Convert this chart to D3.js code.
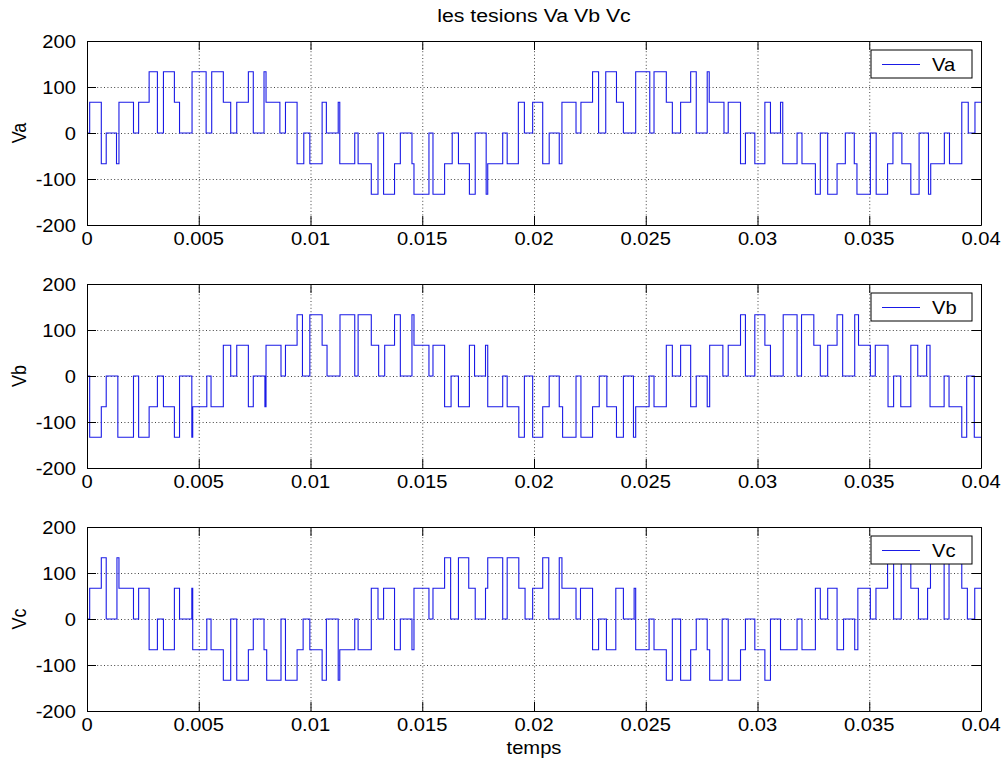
<!DOCTYPE html>
<html>
<head>
<meta charset="utf-8">
<script src="https://cdn.jsdelivr.net/npm/d3@7"></script>
<style>
  body { margin: 0; background: #fff; }
  text { font-family: "Liberation Sans", Arial, sans-serif; fill: #000; }
</style>
</head>
<body>
<svg id="fig" width="1006" height="763"></svg>
<script>
// switching instants (s) and phase voltage levels (V)
const vaT = [0, 0.00012, 0.00064, 0.00086, 0.00132, 0.00143, 0.00208, 0.00231, 0.00278, 0.00315,
  0.00342, 0.00391, 0.00414, 0.00470, 0.00533, 0.00558, 0.00610, 0.00643, 0.00670, 0.00722,
  0.00744, 0.00792, 0.00801, 0.00863, 0.00888, 0.00940, 0.00970, 0.00997, 0.01052, 0.01071,
  0.01124, 0.01131, 0.01198, 0.01213, 0.01272, 0.01302, 0.01327, 0.01376, 0.01402, 0.01454,
  0.01463, 0.01530, 0.01548, 0.01600, 0.01634, 0.01662, 0.01711, 0.01737, 0.01786, 0.01793,
  0.01860, 0.01880, 0.01930, 0.01957, 0.01994, 0.02039, 0.02068, 0.02113, 0.02125, 0.02188,
  0.02210, 0.02262, 0.02289, 0.02321, 0.02369, 0.02400, 0.02455, 0.02518, 0.02537, 0.02592,
  0.02619, 0.02656, 0.02701, 0.02726, 0.02775, 0.02784, 0.02850, 0.02869, 0.02924, 0.02946,
  0.02988, 0.03033, 0.03058, 0.03103, 0.03113, 0.03177, 0.03199, 0.03259, 0.03281, 0.03314,
  0.03356, 0.03393, 0.03433, 0.03445, 0.03505, 0.03531, 0.03582, 0.03606, 0.03646, 0.03686,
  0.03723, 0.03765, 0.03775, 0.03836, 0.03859, 0.03914, 0.03943, 0.03973];
const vaV = [0, 66.7, -66.7, 0, -66.7, 66.7, 0, 66.7, 133.3, 0,
  133.3, 66.7, 0, 133.3, 0, 133.3, 66.7, 0, 66.7, 133.3,
  0, 133.3, 66.7, 0, 66.7, -66.7, 0, -66.7, 66.7, 0,
  66.7, -66.7, 0, -66.7, -133.3, 0, -133.3, -66.7, 0, -66.7,
  -133.3, 0, -133.3, -66.7, 0, -66.7, -133.3, 0, -133.3, -66.7,
  0, -66.7, 66.7, 0, 66.7, -66.7, 0, -66.7, 66.7, 0,
  66.7, 133.3, 0, 133.3, 66.7, 0, 133.3, 0, 133.3, 66.7,
  0, 66.7, 133.3, 0, 133.3, 66.7, 0, 66.7, -66.7, 0,
  -66.7, 66.7, 0, 66.7, -66.7, 0, -66.7, -133.3, 0, -133.3,
  -66.7, 0, -66.7, -133.3, 0, -133.3, -66.7, 0, -66.7, -133.3,
  0, -133.3, -66.7, 0, -66.7, 66.7, 0, 66.7];

const vbT = [0, 0.00012, 0.00064, 0.00086, 0.00138, 0.00208, 0.00231, 0.00278, 0.00315, 0.00342,
  0.00391, 0.00414, 0.00469, 0.00473, 0.00536, 0.00555, 0.00610, 0.00643, 0.00670, 0.00722,
  0.00744, 0.00796, 0.00801, 0.00868, 0.00888, 0.00940, 0.00964, 0.00997, 0.01052, 0.01074,
  0.01132, 0.01198, 0.01213, 0.01272, 0.01305, 0.01332, 0.01376, 0.01402, 0.01454, 0.01463,
  0.01530, 0.01548, 0.01600, 0.01629, 0.01662, 0.01711, 0.01734, 0.01783, 0.01793, 0.01860,
  0.01880, 0.01932, 0.01957, 0.01994, 0.02039, 0.02068, 0.02113, 0.02128, 0.02188, 0.02210,
  0.02262, 0.02292, 0.02326, 0.02369, 0.02400, 0.02445, 0.02455, 0.02515, 0.02537, 0.02592,
  0.02619, 0.02656, 0.02701, 0.02726, 0.02775, 0.02786, 0.02845, 0.02869, 0.02924, 0.02946,
  0.02988, 0.03033, 0.03058, 0.03115, 0.03177, 0.03197, 0.03252, 0.03281, 0.03314, 0.03356,
  0.03381, 0.03435, 0.03452, 0.03505, 0.03527, 0.03584, 0.03609, 0.03641, 0.03686, 0.03717,
  0.03757, 0.03772, 0.03835, 0.03857, 0.03914, 0.03936, 0.03970];
const vbV = [0, -133.3, -66.7, 0, -133.3, 0, -133.3, -66.7, 0, -66.7,
  -133.3, 0, -133.3, -66.7, 0, -66.7, 66.7, 0, 66.7, -66.7,
  0, -66.7, 66.7, 0, 66.7, 133.3, 0, 133.3, 66.7, 0,
  133.3, 0, 133.3, 66.7, 0, 66.7, 133.3, 0, 133.3, 66.7,
  0, 66.7, -66.7, 0, -66.7, 66.7, 0, 66.7, -66.7, 0,
  -66.7, -133.3, 0, -133.3, -66.7, 0, -66.7, -133.3, 0, -133.3,
  -66.7, 0, -66.7, -133.3, 0, -133.3, -66.7, 0, -66.7, 66.7,
  0, 66.7, -66.7, 0, -66.7, 66.7, 0, 66.7, 133.3, 0,
  133.3, 66.7, 0, 133.3, 0, 133.3, 66.7, 0, 66.7, 133.3,
  0, 133.3, 66.7, 0, 66.7, -66.7, 0, -66.7, 66.7, 0,
  66.7, -66.7, 0, -66.7, -133.3, 0, -133.3];

const vcT = [0, 0.00012, 0.00064, 0.00086, 0.00134, 0.00143, 0.00208, 0.00231, 0.00278, 0.00315,
  0.00342, 0.00391, 0.00414, 0.00469, 0.00473, 0.00536, 0.00555, 0.00610, 0.00643, 0.00670,
  0.00722, 0.00744, 0.00792, 0.00804, 0.00868, 0.00888, 0.00940, 0.00967, 0.00997, 0.01052,
  0.01071, 0.01124, 0.01131, 0.01198, 0.01213, 0.01272, 0.01302, 0.01327, 0.01376, 0.01402,
  0.01454, 0.01463, 0.01530, 0.01548, 0.01600, 0.01627, 0.01662, 0.01708, 0.01737, 0.01783,
  0.01793, 0.01860, 0.01880, 0.01932, 0.01960, 0.01994, 0.02039, 0.02066, 0.02113, 0.02125,
  0.02188, 0.02208, 0.02262, 0.02289, 0.02324, 0.02366, 0.02400, 0.02448, 0.02455, 0.02515,
  0.02537, 0.02592, 0.02619, 0.02656, 0.02701, 0.02726, 0.02775, 0.02786, 0.02842, 0.02869,
  0.02924, 0.02946, 0.02988, 0.03033, 0.03058, 0.03103, 0.03177, 0.03199, 0.03259, 0.03281,
  0.03314, 0.03356, 0.03385, 0.03435, 0.03449, 0.03505, 0.03530, 0.03582, 0.03609, 0.03643,
  0.03686, 0.03720, 0.03761, 0.03774, 0.03835, 0.03857, 0.03914, 0.03939, 0.03972];
const vcV = [0, 66.7, 133.3, 0, 133.3, 66.7, 0, 66.7, -66.7, 0,
  -66.7, 66.7, 0, 66.7, -66.7, 0, -66.7, -133.3, 0, -133.3,
  -66.7, 0, -66.7, -133.3, 0, -133.3, -66.7, 0, -66.7, -133.3,
  0, -133.3, -66.7, 0, -66.7, 66.7, 0, 66.7, -66.7, 0,
  -66.7, 66.7, 0, 66.7, 133.3, 0, 133.3, 66.7, 0, 66.7,
  133.3, 0, 133.3, 66.7, 0, 66.7, 133.3, 0, 133.3, 66.7,
  0, 66.7, -66.7, 0, -66.7, 66.7, 0, 66.7, -66.7, 0,
  -66.7, -133.3, 0, -133.3, -66.7, 0, -66.7, -133.3, 0, -133.3,
  -66.7, 0, -66.7, -133.3, 0, -66.7, 0, -66.7, 66.7, 0,
  66.7, -66.7, 0, -66.7, 66.7, 0, 66.7, 133.3, 0, 133.3,
  66.7, 0, 66.7, 133.3, 0, 133.3, 66.7, 0, 66.7];

const xTicks = [0, 0.005, 0.01, 0.015, 0.02, 0.025, 0.03, 0.035, 0.04];
const xTickLabels = ["0", "0.005", "0.01", "0.015", "0.02", "0.025", "0.03", "0.035", "0.04"];
const yTicks = [-200, -100, 0, 100, 200];
const yTickLabels = ["-200", "-100", "0", "100", "200"];

const panels = [
  { name: "Va", t: vaT, v: vaV, top: 41 },
  { name: "Vb", t: vbT, v: vbV, top: 284 },
  { name: "Vc", t: vcT, v: vcV, top: 527 }
];

const left = 87, right = 981, plotH = 184;
const sx = 1.12;   // text in the source is stretched sideways
const svg = d3.select("#fig");

const x = d3.scaleLinear().domain([0, 0.04]).range([left, right]);

// text with the sideways stretch of the original picture
function label(g, px, py, str, anchor, size, rot) {
  return g.append("text")
    .attr("transform", `translate(${px},${py}) scale(${sx},1)` + (rot ? ` rotate(${rot})` : ""))
    .attr("text-anchor", anchor)
    .style("font-size", size + "px")
    .text(str);
}

svg.append("rect").attr("width", 1006).attr("height", 763).attr("fill", "#fff");

panels.forEach(p => {
  const y = d3.scaleLinear().domain([-200, 200]).range([p.top + plotH, p.top]);
  const g = svg.append("g");

  // dotted grid
  g.selectAll(".gx").data(xTicks.slice(1, -1)).join("line")
    .attr("x1", d => x(d) + 0.5).attr("x2", d => x(d) + 0.5)
    .attr("y1", p.top).attr("y2", p.top + plotH)
    .attr("stroke", "#444").attr("stroke-width", 1).attr("stroke-dasharray", "1,2.4");
  g.selectAll(".gy").data(yTicks.slice(1, -1)).join("line")
    .attr("x1", left).attr("x2", right)
    .attr("y1", d => y(d) + 0.5).attr("y2", d => y(d) + 0.5)
    .attr("stroke", "#444").attr("stroke-width", 1).attr("stroke-dasharray", "1,2.4");

  // step trace
  const pts = p.t.map((t, k) => [t, p.v[k]]);
  pts.push([0.04, p.v[p.v.length - 1]]);
  const line = d3.line().x(d => x(d[0])).y(d => y(d[1])).curve(d3.curveStepAfter);
  g.append("path").datum(pts).attr("d", line)
    .attr("fill", "none").attr("stroke", "#1a1ae6").attr("stroke-width", 1.1);

  // box with inward ticks on every side
  g.append("g").attr("transform", `translate(0,${p.top + plotH})`)
    .call(d3.axisBottom(x).tickValues(xTicks).tickSizeInner(-9).tickSizeOuter(0).tickFormat(""));
  g.append("g").attr("transform", `translate(0,${p.top})`)
    .call(d3.axisTop(x).tickValues(xTicks).tickSizeInner(-9).tickSizeOuter(0).tickFormat(""));
  g.append("g").attr("transform", `translate(${left},0)`)
    .call(d3.axisLeft(y).tickValues(yTicks).tickSizeInner(-9).tickSizeOuter(0).tickFormat(""));
  g.append("g").attr("transform", `translate(${right},0)`)
    .call(d3.axisRight(y).tickValues(yTicks).tickSizeInner(-9).tickSizeOuter(0).tickFormat(""));
  g.selectAll(".domain, .tick line").attr("stroke", "#000").attr("stroke-width", 1);

  // tick labels
  xTicks.forEach((d, k) => label(g, x(d), p.top + plotH + 20, xTickLabels[k], "middle", 18));
  yTicks.forEach((d, k) => label(g, left - 11, y(d) + 6.5, yTickLabels[k], "end", 18));

  // y label
  label(g, 26, p.top + plotH / 2, p.name, "middle", 18, -90);

  // legend
  const lg = g.append("g").attr("transform", `translate(871,${p.top + 9})`);
  lg.append("rect").attr("width", 101).attr("height", 28)
    .attr("fill", "#fff").attr("stroke", "#000").attr("stroke-width", 1);
  lg.append("line").attr("x1", 11).attr("x2", 49).attr("y1", 14.5).attr("y2", 14.5)
    .attr("stroke", "#1a1ae6").attr("stroke-width", 1.1);
  label(lg, 61, 20.5, p.name, "start", 18);
});

label(svg, (left + right) / 2, 22, "les tesions Va Vb Vc", "middle", 19);
label(svg, (left + right) / 2, 754, "temps", "middle", 18);
</script>
</body>
</html>
